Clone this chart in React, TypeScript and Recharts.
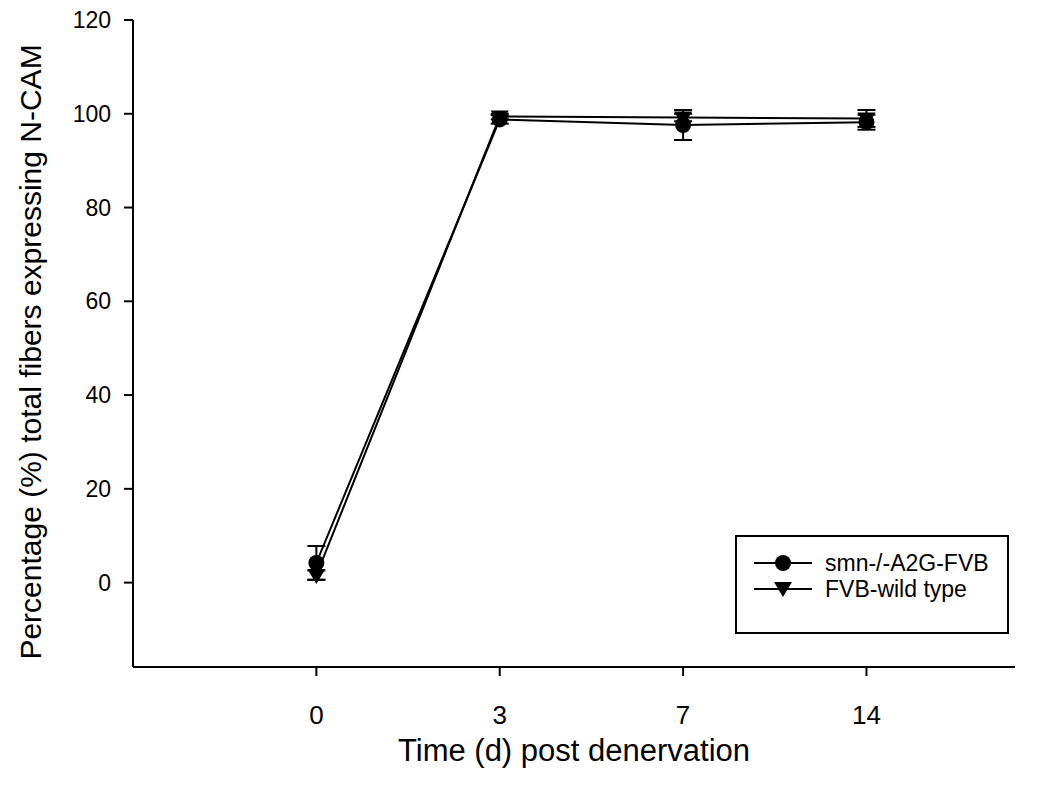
import React from "react";
import { LineChart, Line, XAxis, YAxis, ErrorBar } from "recharts";

const days = ["0", "3", "7", "14"];
const smnValues = [4.2, 98.8, 97.6, 98.2];
const smnErrors = [3.6, 0.9, 3.2, 1.6];
const fvbValues = [1.6, 99.4, 99.2, 99.0];
const fvbErrors = [1.0, 0.6, 0.8, 1.8];
const yTicks = [0, 20, 40, 60, 80, 100, 120];
const seriesNames = ["smn-/-A2G-FVB", "FVB-wild type"];

const data = days.map((d, i) => ({
  idx: i,
  day: d,
  smn: smnValues[i],
  smnErr: smnErrors[i],
  fvb: fvbValues[i],
  fvbErr: fvbErrors[i],
}));

const FONT = "'Liberation Sans', Arial, sans-serif";

const CircleDot = (props: any) => {
  const { cx, cy } = props;
  if (cx == null || cy == null) return null;
  return <circle cx={cx} cy={cy} r={8} fill="#000" />;
};

const TriangleDot = (props: any) => {
  const { cx, cy } = props;
  if (cx == null || cy == null) return null;
  return (
    <path
      d={`M${cx - 9},${cy - 6} L${cx + 9},${cy - 6} L${cx},${cy + 9} Z`}
      fill="#000"
    />
  );
};

const LegendBox = () => (
  <div
    style={{
      position: "absolute",
      left: 735,
      top: 535,
      border: "2px solid #000",
      width: 274,
      height: 99,
      boxSizing: "border-box",
      background: "#fff",
      fontFamily: FONT,
      fontSize: 23,
      color: "#000",
      paddingTop: 13,
      overflow: "hidden",
    }}
  >
    {seriesNames.map((name, i) => (
      <div key={name} style={{ display: "flex", alignItems: "center", height: 26, lineHeight: "26px" }}>
        <svg width={88} height={24} style={{ flexShrink: 0 }}>
          <line x1={17} y1={12} x2={75} y2={12} stroke="#000" strokeWidth={2} />
          {i === 0 ? (
            <circle cx={46} cy={12} r={8} fill="#000" />
          ) : (
            <path d="M37,5 L55,5 L46,20 Z" fill="#000" />
          )}
        </svg>
        <span style={{ whiteSpace: "nowrap" }}>{name}</span>
      </div>
    ))}
  </div>
);

const YLabel = () => (
  <text
    x={30}
    y={352}
    transform="rotate(-90, 30, 352)"
    textAnchor="middle"
    dominantBaseline="central"
    fontFamily={FONT}
    fontSize={30}
    fill="#000"
  >
    Percentage (%) total fibers expressing N-CAM
  </text>
);

export default function App() {
  return (
    <div style={{ position: "absolute", left: 0, top: 0, background: "#fff" }}>
      <LineChart
        width={1045}
        height={785}
        data={data}
        margin={{ top: 20, right: 30, left: 0, bottom: 0 }}
      >
        <XAxis
          dataKey="idx"
          type="number"
          domain={[-1, 3.81]}
          ticks={[0, 1, 2, 3]}
          tickFormatter={(v: number) => days[v]}
          height={118}
          stroke="#000"
          strokeWidth={2}
          tickSize={9}
          tickMargin={30}
          tick={{ fill: "#000", fontSize: 26, fontFamily: FONT }}
          allowDataOverflow
          label={{
            value: "Time (d) post denervation",
            position: "insideBottom",
            offset: 24,
            fill: "#000",
            fontSize: 31,
            fontFamily: FONT,
          }}
        />
        <YAxis
          type="number"
          domain={[-18, 120]}
          ticks={yTicks}
          width={133}
          stroke="#000"
          strokeWidth={2}
          tickSize={9}
          tick={{ fill: "#000", fontSize: 23, fontFamily: FONT, dx: -11 }}
          allowDataOverflow
          label={<YLabel />}
        />
        <Line
          dataKey="fvb"
          name={seriesNames[1]}
          stroke="#000"
          strokeWidth={2}
          dot={<TriangleDot />}
          activeDot={false}
          isAnimationActive={false}
          type="linear"
        >
          <ErrorBar dataKey="fvbErr" width={9} stroke="#000" strokeWidth={2} direction="y" />
        </Line>
        <Line
          dataKey="smn"
          name={seriesNames[0]}
          stroke="#000"
          strokeWidth={2}
          dot={<CircleDot />}
          activeDot={false}
          isAnimationActive={false}
          type="linear"
        >
          <ErrorBar dataKey="smnErr" width={9} stroke="#000" strokeWidth={2} direction="y" />
        </Line>
      </LineChart>
      <LegendBox />
    </div>
  );
}
